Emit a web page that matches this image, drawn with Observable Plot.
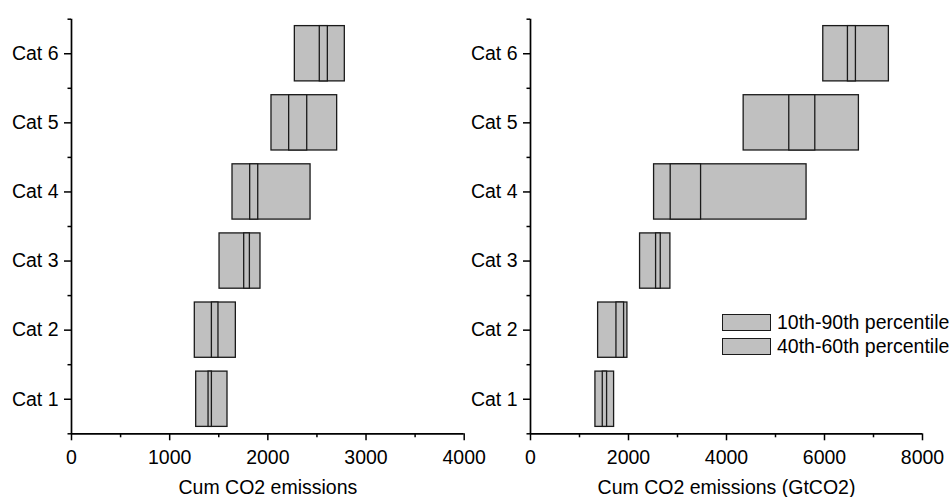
<!DOCTYPE html>
<html>
<head>
<meta charset="utf-8">
<script src="https://cdn.jsdelivr.net/npm/d3@7"></script>
<script src="https://cdn.jsdelivr.net/npm/@observablehq/plot@0.6"></script>
<style>
  body { margin: 0; background: #fff; }
  #wrap { position: relative; width: 951px; height: 497px; overflow: hidden;
          font-family: "Liberation Sans", Arial, sans-serif; }
  .panel { position: absolute; top: 0; }
  .legend-row { position: absolute; height: 24px; white-space: nowrap; }
  .legend-box { position: absolute; left: 0; top: 0; width: 49px; height: 16.5px;
                box-sizing: border-box; background: #c0c0c0; border: 1.3px solid #1a1a1a; }
  .legend-text { position: absolute; left: 55px; top: -3px; font-size: 19.5px; line-height: 22px; color: #000; }
</style>
</head>
<body>
<div id="wrap"></div>
<script>
// Scenario categories (y axis)
const categories = ["Cat 1", "Cat 2", "Cat 3", "Cat 4", "Cat 5", "Cat 6"];

// Left panel: cumulative CO2 emissions percentiles
const leftP10 = [1270, 1256, 1508, 1640, 2037, 2275];
const leftP90 = [1589, 1674, 1925, 2435, 2706, 2784];
const leftP40 = [1396, 1430, 1759, 1820, 2217, 2529];
const leftP60 = [1430, 1497, 1817, 1902, 2401, 2611];

// Right panel: cumulative CO2 emissions (GtCO2) percentiles
const rightP10 = [1325, 1380, 2236, 2522, 4350, 5975];
const rightP90 = [1706, 1978, 2855, 5634, 6702, 7314];
const rightP40 = [1475, 1754, 2563, 2861, 5281, 6478];
const rightP60 = [1563, 1910, 2658, 3481, 5812, 6641];

// Axis ticks and titles
const leftTicks = [0, 1000, 2000, 3000, 4000];
const leftMinorTicks = [500, 1500, 2500, 3500];
const rightTicks = [0, 2000, 4000, 6000, 8000];
const rightMinorTicks = [1000, 3000, 5000, 7000];
const leftTitle = "Cum CO2 emissions";
const rightTitle = "Cum CO2 emissions (GtCO2)";
const legendLabels = ["10th-90th percentile", "40th-60th percentile"];

const catIndex = categories.map((_, i) => i + 1);
const catMinor = [0.5, 1.5, 2.5, 3.5, 4.5, 5.5, 6.5];

function rows(lo, hi) {
  return categories.map((c, i) => ({cat: i + 1, lo: lo[i], hi: hi[i]}));
}

const FILL = "#c0c0c0";
const EDGE = "#1a1a1a";
const FS = 19.5;

function panel({width, marginLeft, marginRight, xMax, ticks, minorTicks, title, p10, p90, p40, p60}) {
  return Plot.plot({
    width, height: 497,
    marginLeft, marginRight, marginTop: 18.7, marginBottom: 63.7,
    style: {fontFamily: "'Liberation Sans', Arial, sans-serif", fontSize: FS + "px",
            color: "#000", background: "transparent", overflow: "visible"},
    x: {domain: [0, xMax]},
    y: {domain: [0.5, 6.5]},
    marks: [
      Plot.rect(rows(p10, p90), {x1: "lo", x2: "hi", y1: d => d.cat - 0.4, y2: d => d.cat + 0.4,
        fill: FILL, stroke: EDGE, strokeWidth: 1.3}),
      Plot.rect(rows(p40, p60), {x1: "lo", x2: "hi", y1: d => d.cat - 0.4, y2: d => d.cat + 0.4,
        fill: FILL, stroke: EDGE, strokeWidth: 1.3}),
      Plot.axisY(catIndex, {tickSize: 7, tickPadding: 6, strokeWidth: 1.5, label: null,
        fontSize: FS, tickFormat: i => categories[i - 1]}),
      Plot.axisY(catMinor, {tickSize: 3.5, strokeWidth: 1.5, label: null, tickFormat: () => ""}),
      Plot.axisX(ticks, {tickSize: 7, tickPadding: 9, strokeWidth: 1.5, label: null,
        fontSize: FS, tickFormat: d => String(d)}),
      Plot.axisX(minorTicks, {tickSize: 4, strokeWidth: 1.5, label: null, tickFormat: () => ""}),
      Plot.ruleY([0.5], {strokeWidth: 1.7, stroke: "#000"}),
      Plot.ruleX([0], {y1: 0.5, y2: 6.5, strokeWidth: 1.7, stroke: "#000"}),
      Plot.text([title], {text: d => d, frameAnchor: "bottom", dy: 53.5, lineAnchor: "middle",
        fontSize: FS, fill: "#000"})
    ]
  });
}

const wrap = document.getElementById("wrap");

const left = panel({width: 475, marginLeft: 71, marginRight: 11.3, xMax: 4000,
  ticks: leftTicks, minorTicks: leftMinorTicks, title: leftTitle,
  p10: leftP10, p90: leftP90, p40: leftP40, p60: leftP60});
left.classList.add("panel");
left.style.left = "0px";
wrap.appendChild(left);

const right = panel({width: 476, marginLeft: 55, marginRight: 29, xMax: 8000,
  ticks: rightTicks, minorTicks: rightMinorTicks, title: rightTitle,
  p10: rightP10, p90: rightP90, p40: rightP40, p60: rightP60});
right.classList.add("panel");
right.style.left = "475px";
wrap.appendChild(right);

// Legend entries
legendLabels.forEach((label, i) => {
  const row = document.createElement("div");
  row.className = "legend-row";
  row.style.left = "722px";
  row.style.top = (314 + i * 24) + "px";
  const box = document.createElement("div");
  box.className = "legend-box";
  const txt = document.createElement("div");
  txt.className = "legend-text";
  txt.textContent = label;
  row.appendChild(box);
  row.appendChild(txt);
  wrap.appendChild(row);
});
</script>
</body>
</html>
